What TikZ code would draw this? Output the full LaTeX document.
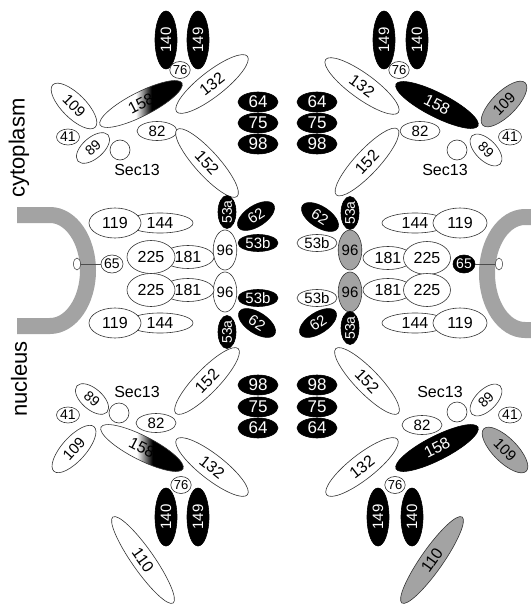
\documentclass[tikz,border=0pt]{standalone}
\usepackage{fontspec}
\setmainfont{Liberation Sans}
\usetikzlibrary{shapes.geometric}
\newcommand\fsz[1]{\fontsize{#1pt}{#1pt}\selectfont}
% white half fading into a black half, along the long axis of an ellipse
\pgfdeclarehorizontalshading{paleToDark}{100bp}{color(0bp)=(white); color(47bp)=(white); color(56bp)=(black); color(100bp)=(black)}
\begin{document}
\begin{tikzpicture}[x=1pt, y=-1pt,
  sub/.style={ellipse, draw=black!80, line width=0.6pt, fill=white, inner sep=0pt, font=\fsz{15}},
  dark/.style={sub, fill=black, draw=black, text=white},
  mid/.style={sub, fill=black!36},
  half/.style={ellipse, draw=black!80, line width=0.6pt, inner sep=0pt, font=\fsz{15}, shading=paleToDark},
  sz/.style 2 args={minimum width=#1pt, minimum height=#2pt},
  ring/.style={line width=16pt, draw=black!36},
  tether/.style={draw=black!70, line width=0.8pt},
  word/.style={inner sep=0pt, font=\fsz{16}},
  side/.style={inner sep=0pt, font=\fsz{22}, rotate=90},
]
\useasboundingbox (0,0) rectangle (530,604);

% nuclear envelope, left and right
\draw[ring] (17,215) -- (50,215) arc[start angle=90, end angle=-90, x radius=38pt, y radius=55.5pt] -- (17,326);
\draw[ring] (540,217) -- (525,217) arc[start angle=90, end angle=270, x radius=38pt, y radius=56.5pt] -- (540,330);

\node[side] (cyto) at (19,148) {cytoplasm};
\node[side] (nucl) at (19,379) {nucleus};

% ---------- upper left ----------
\node[dark, sz={58}{22}, rotate=90] (ulA) at (166,40) {140};
\node[dark, sz={58}{22}, rotate=90] (ulB) at (198,40) {149};
\node[sub, sz={18}{17}, font=\fsz{13}] (ulC) at (180,70) {76};
\node[sub, sz={90}{25}, rotate=38, font=\fsz{16}] (ulD) at (212,84) {132};
\node[half, sz={92}{24}, rotate=27, font=\fsz{16}] (ulE) at (141,104) {158};
\node[sub, sz={60}{24}, rotate=-45] (ulF) at (74,106) {109};
\node[sub, sz={23}{16}, font=\fsz{14}] (ulG) at (68,137) {41};
\node[sub, sz={40}{21}, rotate=41, font=\fsz{14}] (ulH) at (93,148) {89};
\node[sub, circle, minimum size=20pt] (ulI) at (120,150) {};
\node[word] (ulJ) at (137,170) {Sec13};
\node[sub, sz={40}{19}] (ulK) at (157,131) {82};
\node[sub, sz={90}{24}, rotate=-48, font=\fsz{16}] (ulL) at (207,163) {152};

% ---------- upper right ----------
\node[dark, sz={58}{22}, rotate=90] (urA) at (384,40) {149};
\node[dark, sz={58}{22}, rotate=90] (urB) at (417,40) {140};
\node[sub, sz={18}{17}, font=\fsz{13}] (urC) at (399,70) {76};
\node[sub, sz={90}{25}, rotate=-36, font=\fsz{16}] (urD) at (362,86) {132};
\node[dark, sz={92}{24}, rotate=-27, font=\fsz{16}] (urE) at (437,105) {158};
\node[mid, sz={60}{24}, rotate=45] (urF) at (504,104) {109};
\node[sub, sz={23}{16}, font=\fsz{14}] (urG) at (510,137) {41};
\node[sub, sz={40}{21}, rotate=-45, font=\fsz{14}] (urH) at (486,150) {89};
\node[sub, circle, minimum size=20pt] (urI) at (457,150) {};
\node[word] (urJ) at (445,170) {Sec13};
\node[sub, sz={40}{19}] (urK) at (420,131) {82};
\node[sub, sz={90}{24}, rotate=47, font=\fsz{16}] (urL) at (367,162) {152};

% ---------- central stacks, top ----------
\foreach \lab/\yy/\nm in {64/102/a, 75/123/b, 98/144/c}{
  \node[dark, sz={40}{20}, font=\fsz{17}] (ctl\nm) at (258,\yy) {\lab};
  \node[dark, sz={40}{20}, font=\fsz{17}] (ctr\nm) at (317,\yy) {\lab};
}

% ---------- central stacks, bottom ----------
\foreach \lab/\yy/\nm in {98/385/a, 75/407/b, 64/428/c}{
  \node[dark, sz={40}{20}, font=\fsz{17}] (cbl\nm) at (258,\yy) {\lab};
  \node[dark, sz={40}{20}, font=\fsz{17}] (cbr\nm) at (317,\yy) {\lab};
}

% ---------- inner ring, left half ----------
\node[dark, sz={33}{18}, rotate=90, font=\fsz{14}] (ilA) at (227,212) {53a};
\node[dark, sz={42}{21}, rotate=33] (ilB) at (256,216) {62};
\node[sub, sz={20}{40}] (ilC) at (225,250) {96};
\node[dark, sz={40}{17}] (ilD) at (258,243) {53b};
\node[sub, sz={20}{40}] (ilE) at (225,292) {96};
\node[dark, sz={40}{17}] (ilF) at (258,298) {53b};
\node[dark, sz={42}{21}, rotate=-33] (ilG) at (257,323) {62};
\node[dark, sz={33}{18}, rotate=90, font=\fsz{14}] (ilH) at (227,332) {53a};

% ---------- inner ring, right half ----------
\node[dark, sz={42}{21}, rotate=-33] (irB) at (320,217) {62};
\node[sub, sz={40}{17}] (irD) at (317,243) {53b};
\node[sub, sz={40}{17}] (irF) at (317,298) {53b};
\node[dark, sz={42}{21}, rotate=33] (irG) at (318,323) {62};
\node[dark, sz={33}{18}, rotate=90, font=\fsz{14}] (irA) at (350,213) {53a};
\node[mid, sz={20}{40}] (irC) at (350,250) {96};
\node[mid, sz={20}{40}] (irE) at (350,292) {96};
\node[dark, sz={33}{18}, rotate=90, font=\fsz{14}] (irH) at (350,328) {53a};

% ---------- horizontal pairs, left ----------
\node[sub, sz={66}{20}, font=\fsz{16}] (hlA) at (160,223) {144};
\node[sub, sz={52}{30}, font=\fsz{16}] (hlB) at (115,223) {119};
\node[sub, sz={52}{23}, font=\fsz{16}] (hlC) at (188,257) {181};
\node[sub, sz={48}{33}, font=\fsz{16}] (hlD) at (151,257) {225};
\node[sub, sz={52}{23}, font=\fsz{16}] (hlE) at (188,290) {181};
\node[sub, sz={48}{33}, font=\fsz{16}] (hlF) at (151,290) {225};
\node[sub, sz={66}{20}, font=\fsz{16}] (hlG) at (160,323) {144};
\node[sub, sz={52}{30}, font=\fsz{16}] (hlH) at (115,323) {119};

% ---------- horizontal pairs, right ----------
\node[sub, sz={66}{20}, font=\fsz{16}] (hrA) at (415,223) {144};
\node[sub, sz={54}{30}, font=\fsz{16}] (hrB) at (460,223) {119};
\node[sub, sz={50}{23}, font=\fsz{16}] (hrC) at (388,258) {181};
\node[sub, sz={47}{33}, font=\fsz{16}] (hrD) at (427,258) {225};
\node[sub, sz={50}{23}, font=\fsz{16}] (hrE) at (388,290) {181};
\node[sub, sz={47}{33}, font=\fsz{16}] (hrF) at (427,290) {225};
\node[sub, sz={66}{20}, font=\fsz{16}] (hrG) at (415,323) {144};
\node[sub, sz={54}{30}, font=\fsz{16}] (hrH) at (460,323) {119};

% ---------- anchors in the envelope ----------
\node[sub, sz={22}{18}, font=\fsz{14}] (lp65) at (112,264) {65};
\node[dark, sz={22}{18}, font=\fsz{14}] (rp65) at (464,264) {65};
\node[sub, line width=0.5pt, sz={7}{12}] (lpin) at (77,264) {};
\node[sub, line width=0.5pt, sz={7}{12}] (rpin) at (499,264) {};
\draw[tether] (lpin) -- (lp65);
\draw[tether] (rpin) -- (rp65);

% ---------- lower left ----------
\node[word] (llJ) at (137,392) {Sec13};
\node[sub, circle, minimum size=20pt] (llI) at (119,413) {};
\node[sub, sz={40}{21}, rotate=-41, font=\fsz{14}] (llH) at (92,399) {89};
\node[sub, sz={23}{16}, font=\fsz{14}] (llG) at (68,415) {41};
\node[sub, sz={60}{24}, rotate=48] (llF) at (74,449) {109};
\node[sub, sz={40}{19}] (llK) at (156,423) {82};
\node[half, sz={92}{24}, rotate=-27, font=\fsz{16}] (llE) at (142,448) {158};
\node[sub, sz={90}{24}, rotate=46, font=\fsz{16}] (llL) at (207,381) {152};
\node[sub, sz={90}{25}, rotate=-38, font=\fsz{16}] (llD) at (212,467) {132};
\node[sub, sz={18}{17}, font=\fsz{13}] (llC) at (181,485) {76};
\node[dark, sz={58}{22}, rotate=90] (llA) at (166,517) {140};
\node[dark, sz={58}{22}, rotate=90] (llB) at (198,517) {149};
\node[sub, sz={105}{22}, rotate=-55, font=\fsz{16}] (llM) at (143,560) {110};

% ---------- lower right ----------
\node[word] (lrJ) at (440,392) {Sec13};
\node[sub, circle, minimum size=20pt] (lrI) at (457,412) {};
\node[sub, sz={40}{21}, rotate=45, font=\fsz{14}] (lrH) at (486,400) {89};
\node[sub, sz={23}{16}, font=\fsz{14}] (lrG) at (510,415) {41};
\node[mid, sz={60}{24}, rotate=-45] (lrF) at (505,450) {109};
\node[sub, sz={40}{19}] (lrK) at (422,425) {82};
\node[dark, sz={92}{24}, rotate=27, font=\fsz{16}] (lrE) at (437,448) {158};
\node[sub, sz={90}{24}, rotate=-46, font=\fsz{16}] (lrL) at (367,381) {152};
\node[sub, sz={90}{25}, rotate=38, font=\fsz{16}] (lrD) at (362,467) {132};
\node[sub, sz={18}{17}, font=\fsz{13}] (lrC) at (395,485) {76};
\node[dark, sz={58}{22}, rotate=90] (lrB) at (378,517) {149};
\node[dark, sz={58}{22}, rotate=90] (lrA) at (412,517) {140};
\node[mid, sz={105}{22}, rotate=55, font=\fsz{16}] (lrM) at (432,560) {110};
\end{tikzpicture}
\end{document}
